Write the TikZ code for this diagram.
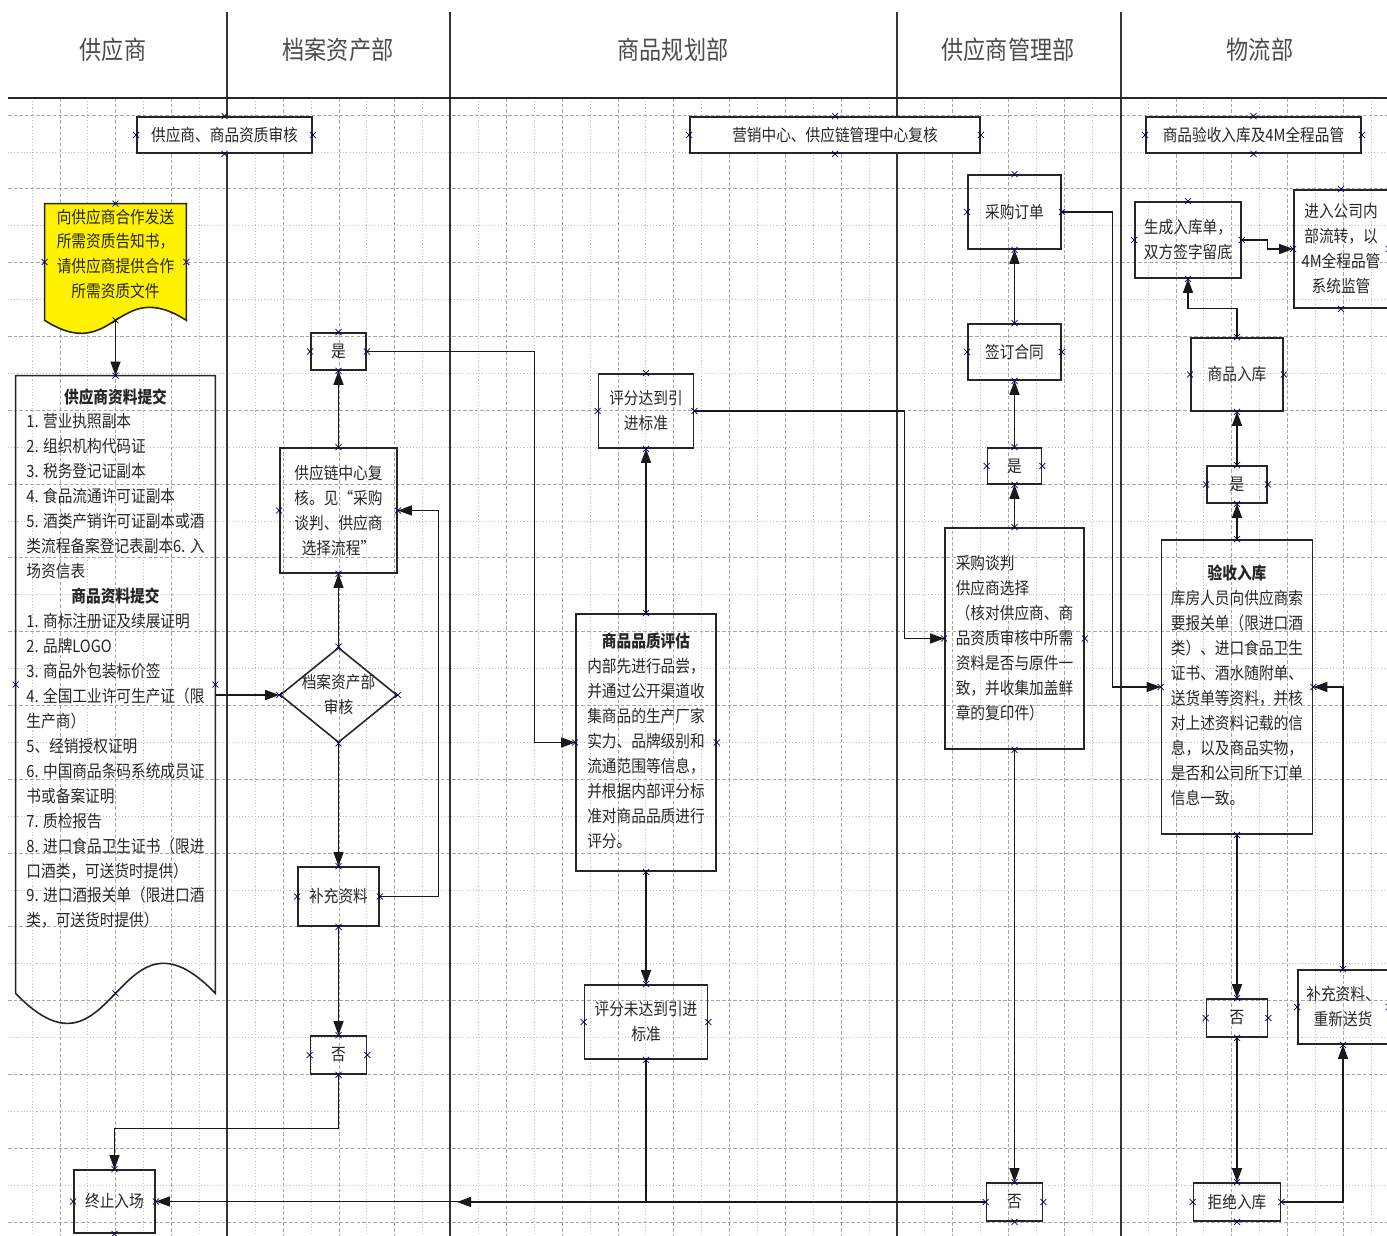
\documentclass[tikz,border=0pt]{standalone}
\usepackage{fontspec}
\setmainfont{Noto Sans CJK SC}[FakeStretch=0.87]
\usetikzlibrary{arrows.meta,shapes.geometric}
\newcommand{\unitpx}{0.02cm}
\newcommand{\bodyfont}{\fontsize{9.6}{14.2}\selectfont}
\newcommand{\midhead}[1]{\multicolumn{1}{@{}c@{}}{\bfseries #1}}
\begin{document}
\begin{tikzpicture}[x=0.02cm,y=-0.02cm,
  proc/.style 2 args={draw=black!85,line width=0.9pt,minimum width=#1*\unitpx,minimum height=#2*\unitpx,inner sep=1pt,font=\bodyfont,text=black!85},
  hd/.style={font=\fontsize{14.5}{18}\selectfont,text=black!70},
  txt/.style={inner sep=0pt,font=\bodyfont,text=black!85},
  arr/.style={line width=0.7pt,draw=black!90,-{Triangle[length=0.28cm,width=0.2cm]}},
  lane/.style={line width=0.75pt,draw=black!80},
  gdash/.style={draw=black!35,line width=0.4pt,dash pattern=on 2pt off 1.2pt},
  gdot/.style={draw=black!25,line width=0.4pt,dash pattern=on 0.6pt off 1.2pt},
  xmk/.style={draw=blue!40!black,line width=0.4pt}]
  \useasboundingbox (0,0) rectangle (1387,1236);
  \foreach \k in {0,...,48}{\pgfmathsetmacro\gx{32+27.9*\k}\ifodd\k\relax\draw[gdash] (\gx,98) -- (\gx,1236);\else\draw[gdot] (\gx,98) -- (\gx,1236);\fi}
  \foreach \k in {0,...,30}{\pgfmathsetmacro\gy{115+36.9*\k}\ifodd\k\relax\draw[gdot] (8,\gy) -- (1387,\gy);\else\draw[gdash] (8,\gy) -- (1387,\gy);\fi}
  \foreach \lx in {227,450,897,1121} \draw[lane] (\lx,12) -- (\lx,1236);
  \draw[line width=1.1pt,black!85] (8,98) -- (1387,98);
  \node[hd] (hSup) at (113,50) {供应商};
  \node[hd] (hArc) at (338,50) {档案资产部};
  \node[hd] (hPlan) at (673,50) {商品规划部};
  \node[hd] (hSM) at (1008,50) {供应商管理部};
  \node[hd] (hLog) at (1260,50) {物流部};
  \node[proc={175}{36},fill=white] (secA) at (224.5,135) {供应商、商品资质审核};
  \node[proc={290}{36},fill=white] (secB) at (835,135) {营销中心、供应链管理中心复核};
  \node[proc={215}{36},fill=white] (secC) at (1253.5,135) {商品验收入库及4M全程品管};
  \node[minimum width=141*\unitpx,minimum height=116*\unitpx] (notice) at (115.5,262) {};
  \draw[line width=0.9pt,black!85,fill=yellow] (notice.north west) -- (notice.north east) -- (notice.south east) .. controls +(-70.5,-45) and +(70.5,45) .. (notice.south west) -- cycle;
  \node[txt,align=center] (noticeT) at (115.5,254) {向供应商合作发送\\所需资质告知书，\\请供应商提供合作\\所需资质文件};
  \node[minimum width=199*\unitpx,minimum height=617*\unitpx] (docB) at (115.5,684.5) {};
  \draw[line width=0.9pt,black!85] (docB.north west) -- (docB.north east) -- (docB.south east) .. controls +(-99.5,-104) and +(99.5,104) .. (docB.south west) -- cycle;
  \node[txt] (docBT) at (115.5,660) {\begin{tabular}{@{}l@{}}
    \midhead{供应商资料提交}\\
    1. 营业执照副本\\
    2. 组织机构代码证\\
    3. 税务登记证副本\\
    4. 食品流通许可证副本\\
    5. 酒类产销许可证副本或酒\\
    类流程备案登记表副本6. 入\\
    场资信表\\
    \midhead{商品资料提交}\\
    1. 商标注册证及续展证明\\
    2. 品牌LOGO\\
    3. 商品外包装标价签\\
    4. 全国工业许可生产证（限\\
    生产商）\\
    5、经销授权证明\\
    6. 中国商品条码系统成员证\\
    书或备案证明\\
    7. 质检报告\\
    8. 进口食品卫生证书（限进\\
    口酒类，可送货时提供）\\
    9. 进口酒报关单（限进口酒\\
    类，可送货时提供）
  \end{tabular}};
  \node[proc={81}{63}] (stop) at (114.5,1201.5) {终止入场};
  \node[proc={55}{37}] (yesA) at (338.5,351.5) {是};
  \node[proc={117}{125},align=center] (review) at (338.5,510.5) {供应链中心复\\核。见“采购\\谈判、供应商\\选择流程”};
  \node[draw=black!85,line width=0.9pt,diamond,minimum width=117*\unitpx,minimum height=95*\unitpx,inner sep=0pt] (audit) at (338.5,695) {};
  \node[txt,align=center] (auditT) at (audit) {档案资产部\\审核};
  \node[proc={81}{59}] (supp) at (338.5,896.5) {补充资料};
  \node[proc={56}{38}] (noA) at (338.5,1055) {否};
  \node[proc={95}{74},align=center] (pass) at (646,411) {评分达到引\\进标准};
  \node[proc={140}{257}] (evalq) at (646,742.5) {\begin{tabular}{@{}l@{}}
    \midhead{商品品质评估}\\
    内部先进行品尝，\\
    并通过公开渠道收\\
    集商品的生产厂家\\
    实力、品牌级别和\\
    流通范围等信息，\\
    并根据内部评分标\\
    准对商品品质进行\\
    评分。
  \end{tabular}};
  \node[proc={123}{74},align=center] (fail) at (646,1022) {评分未达到引进\\标准};
  \node[proc={93}{74}] (order) at (1014.5,212) {采购订单};
  \node[proc={93}{56}] (sign) at (1014.5,352) {签订合同};
  \node[proc={54}{36}] (yesS) at (1014.5,466) {是};
  \node[proc={139}{221},align=left] (nego) at (1014.5,638.5) {采购谈判\\供应商选择\\（核对供应商、商\\品资质审核中所需\\资料是否与原件一\\致，并收集加盖鲜\\章的复印件）};
  \node[proc={56}{38}] (noS) at (1014.5,1202) {否};
  \coordinate (jointL) at (457,1202);
  \node[proc={106}{76},align=left] (gen) at (1188,240) {生成入库单，\\双方签字留底};
  \node[proc={94}{118},align=center] (flow) at (1341,249) {进入公司内\\部流转，以\\4M全程品管\\系统监管};
  \node[proc={92}{73}] (inS) at (1237,374.5) {商品入库};
  \node[proc={60}{37}] (yesL) at (1237,484.5) {是};
  \node[proc={151}{294}] (check) at (1237,687) {\begin{tabular}{@{}l@{}}
    \midhead{验收入库}\\
    库房人员向供应商索\\
    要报关单（限进口酒\\
    类）、进口食品卫生\\
    证书、酒水随附单、\\
    送货单等资料，并核\\
    对上述资料记载的信\\
    息，以及商品实物，\\
    是否和公司所下订单\\
    信息一致。
  \end{tabular}};
  \node[proc={61}{38}] (noL) at (1237,1018) {否};
  \node[proc={87}{38}] (reject) at (1237,1202) {拒绝入库};
  \node[proc={90}{74},align=center] (resend) at (1343,1007) {补充资料、\\重新送货};
  \draw[arr] (notice.south) -- (docB.north);
  \draw[arr] (docB.east |- audit.west) -- (audit.west);
  \draw[arr] (audit.north) -- (review.south);
  \draw[arr] (review.north) -- (yesA.south);
  \draw[arr] (yesA.east) -- ++(168,0) |- (evalq.west);
  \draw[arr] (audit.south) -- (supp.north);
  \draw[arr] (supp.east) -- ++(59,0) |- (review.east);
  \draw[arr] (supp.south) -- (noA.north);
  \draw[arr] (noA.south) -- ++(0,54) -| (stop.north);
  \draw[arr] (evalq.north) -- (pass.south);
  \draw[arr] (evalq.south) -- (fail.north);
  \draw[arr] (pass.east) -- ++(210,0) |- (nego.west);
  \draw[arr] (fail.south) |- (stop.east);
  \draw[arr] (noS.west) -- (jointL);
  \draw[arr] (nego.south) -- (noS.north);
  \draw[arr] (nego.north) -- (yesS.south);
  \draw[arr] (yesS.north) -- (sign.south);
  \draw[arr] (sign.north) -- (order.south);
  \draw[arr] (order.east) -- ++(51,0) |- (check.west);
  \draw[arr] (check.north) -- (yesL.south);
  \draw[arr] (yesL.north) -- (inS.south);
  \draw[arr] (inS.north) -- ++(0,-29) -| (gen.south);
  \draw[arr] (gen.east) -- ++(26,0) |- (flow.west);
  \draw[arr] (check.south) -- (noL.north);
  \draw[arr] (noL.south) -- (reject.north);
  \draw[arr] (reject.east) -| (resend.south);
  \draw[arr] (resend.north) |- (check.east);
  \foreach \n in {secA,secB,secC,notice,docB,stop,yesA,review,audit,supp,noA,pass,evalq,fail,order,sign,yesS,nego,noS,gen,flow,inS,yesL,check,noL,reject,resend}
    \foreach \a in {north,south,east,west}
      \draw[xmk] (\n.\a) ++(-3,-3) -- ++(6,6) ++(-6,0) -- ++(6,-6);
\end{tikzpicture}
\end{document}
